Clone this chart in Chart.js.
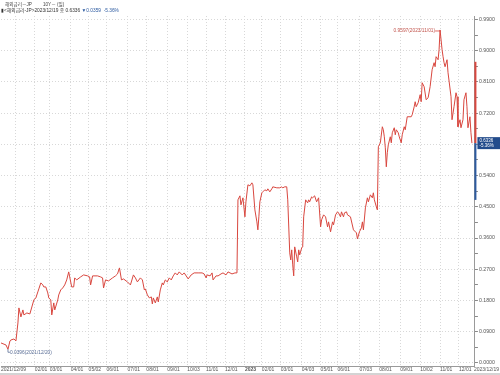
<!DOCTYPE html>
<html><head><meta charset="utf-8">
<script src="https://cdn.jsdelivr.net/npm/chart.js@4.4.1/dist/chart.umd.min.js"></script>
<style>html,body{margin:0;padding:0;background:#fff;}canvas{display:block;}</style>
</head><body>
<canvas id="c" width="500" height="375"></canvas>
<script>
// Trading-day number (since 2021/12/09) and 10Y JGB yield (%)
const jgb10y = [
[0,0.0577],[5,0.0519],[7,0.0396],[9,0.0635],[10,0.0663],[13,0.0692],[15,0.0635],[16,0.0894],[17,0.1154],[18,0.1587],
[20,0.1327],[22,0.1529],[23,0.1385],[26,0.1442],[29,0.1413],[33,0.1817],[35,0.1875],[37,0.2048],[38,0.2135],[40,0.2308],
[42,0.2250],[43,0.2192],[45,0.2192],[47,0.2019],[48,0.1875],[50,0.1817],[51,0.1385],[53,0.1731],[54,0.1529],[57,0.1817],
[58,0.1962],[60,0.2106],[62,0.2163],[64,0.2250],[66,0.2394],[68,0.2625],[69,0.2481],[71,0.2192],[73,0.2192],[74,0.2452],
[76,0.2394],[80,0.2481],[83,0.2538],[87,0.2510],[89,0.2481],[90,0.2250],[92,0.2510],[97,0.2510],[100,0.2481],[102,0.2452],
[103,0.2163],[105,0.2394],[108,0.2365],[112,0.2452],[115,0.2510],[117,0.2567],[119,0.2740],[121,0.2394],[123,0.2423],[127,0.2337],
[130,0.2250],[133,0.2538],[135,0.2452],[137,0.2337],[140,0.2452],[142,0.2394],[144,0.2106],[145,0.2135],[147,0.1962],[149,0.1875],
[151,0.1904],[152,0.1702],[153,0.1875],[155,0.1731],[157,0.1904],[158,0.1760],[160,0.2106],[162,0.2308],[163,0.2250],[165,0.2394],
[167,0.2337],[169,0.2452],[171,0.2394],[173,0.2510],[175,0.2596],[177,0.2538],[179,0.2625],[182,0.2538],[184,0.2596],[188,0.2423],
[191,0.2538],[194,0.2596],[198,0.2596],[202,0.2596],[204,0.2567],[206,0.2452],[207,0.2538],[210,0.2510],[212,0.2596],[213,0.2394],
[216,0.2510],[218,0.2510],[221,0.2567],[223,0.2596],[226,0.2538],[228,0.2625],[232,0.2567],[235,0.2596],[237,0.2596],[238,0.4702],
[240,0.4817],[241,0.4558],[243,0.4760],[245,0.4212],[246,0.4644],[248,0.5135],[250,0.5106],[252,0.5192],[253,0.5135],[255,0.4413],
[257,0.4067],[258,0.3837],[259,0.4212],[260,0.4644],[262,0.4904],[263,0.4933],[265,0.4990],[267,0.4962],[268,0.5019],[270,0.4933],
[272,0.5019],[273,0.5077],[277,0.5048],[280,0.5048],[282,0.5077],[283,0.5048],[285,0.5077],[287,0.5077],[288,0.4702],[290,0.3173],
[291,0.2971],[292,0.3260],[293,0.2827],[294,0.2510],[295,0.3346],[297,0.3058],[298,0.2913],[299,0.3260],[300,0.3115],[302,0.3317],
[303,0.3346],[304,0.4212],[306,0.4702],[308,0.4615],[309,0.4702],[310,0.4644],[312,0.4788],[313,0.4760],[315,0.4817],[317,0.4644],
[319,0.4760],[321,0.3923],[322,0.4125],[324,0.4269],[326,0.4212],[328,0.3923],[329,0.4067],[331,0.3779],[333,0.4067],[334,0.3981],
[336,0.4269],[338,0.4356],[339,0.4327],[341,0.4212],[342,0.4356],[344,0.4212],[345,0.4327],[347,0.4356],[348,0.4269],[351,0.4212],
[354,0.3837],[357,0.3750],[358,0.3577],[360,0.3779],[362,0.3894],[363,0.4067],[364,0.3837],[366,0.4471],[368,0.4760],[369,0.4644],
[371,0.4846],[373,0.4760],[374,0.4904],[375,0.4702],[377,0.4500],[378,0.4413],[379,0.6231],[381,0.6346],[383,0.6808],[384,0.6721],
[385,0.6519],[386,0.6202],[387,0.5654],[388,0.6058],[389,0.6288],[391,0.6519],[392,0.6346],[393,0.6635],[395,0.6779],[396,0.6577],
[397,0.6721],[399,0.6635],[400,0.6519],[402,0.6346],[403,0.6577],[405,0.6808],[406,0.6721],[408,0.7096],[412,0.7096],[413,0.7154],
[415,0.7385],[416,0.7529],[417,0.7385],[419,0.7500],[421,0.7731],[422,0.7529],[423,0.8077],[425,0.7962],[427,0.7587],[429,0.7644],
[431,0.7962],[433,0.8452],[435,0.8654],[436,0.8538],[437,0.8827],[439,0.8740],[440,0.9029],[441,0.9597],[443,0.9029],[444,0.8827],
[445,0.8654],[446,0.8538],[448,0.8740],[449,0.8365],[452,0.7673],[453,0.7010],[455,0.7385],[457,0.7788],[458,0.7673],[459,0.6808],
[461,0.7010],[462,0.6779],[464,0.7010],[465,0.7587],[467,0.7788],[468,0.7385],[469,0.6779],[471,0.7096],[472,0.6635],[473,0.6336]
];
const xTickDays   = [0,15,34,49,70,88,106,127,146,167,187,206,225,245,262,281,302,321,338,360,380,401,421,441,460,475];
const xTickLabels = ['2021/12/09','','02/01','03/01','04/01','05/02','06/01','07/01','08/01','09/01','10/03','11/01','12/01','2023',
                     '02/01','03/01','04/03','05/01','06/01','07/03','08/01','09/01','10/02','11/01','12/01','2023/12/19'];
const yTickValues = [0,0.045,0.09,0.135,0.18,0.225,0.27,0.315,0.36,0.405,0.45,0.495,0.54,0.585,0.63,0.675,0.72,0.765,0.81,0.855,0.9,0.945,0.99];
const lastDate = '2023/12/19';
const lastClose = 0.6336;
const lastChange = -0.0359;
const lastPct = -5.36;
const maxDate = '2023/11/01';
const minDate = '2021/12/20';
const rangeHigh = 0.868;
const rangeLow = 0.470;

const FONT = "'Liberation Sans','Noto Sans CJK KR',sans-serif";
const RED = '#d9473f';
const BLUE = '#2c5aa0';

const overlay = {
  id: 'overlay',
  beforeDraw(chart) {
    const c = chart.ctx;
    c.save(); c.fillStyle = '#fff'; c.fillRect(0,0,chart.width,chart.height); c.restore();
  },
  afterDraw(chart) {
    const c = chart.ctx, xs = chart.scales.x, ys = chart.scales.y;
    c.save();
    // header
    c.textBaseline = 'middle';
    c.fillStyle = '#444';
    c.font = '4.6px ' + FONT;
    c.fillText('해외금리－JP', 5, 4.5);
    c.fillText('10Y－ (일)', 43, 4.5);
    c.font = '4.8px ' + FONT;
    c.fillStyle = '#333';
    const t1 = '▮<해외금리-JP>' + lastDate + ' 종 ' + lastClose.toFixed(4) + ' ';
    c.fillText(t1, 1, 10.5);
    const w1 = c.measureText(t1).width;
    c.fillStyle = BLUE;
    c.fillText('▼' + Math.abs(lastChange).toFixed(4) + '  ' + lastPct.toFixed(2) + '%', 1 + w1, 10.5);
    // max / min annotations
    let mx = jgb10y[0], mn = jgb10y[0];
    jgb10y.forEach(p => { if (p[1] > mx[1]) mx = p; if (p[1] < mn[1]) mn = p; });
    const px = xs.getPixelForValue(mx[0]), py = ys.getPixelForValue(mx[1]);
    c.strokeStyle = RED; c.lineWidth = 0.8;
    c.beginPath(); c.moveTo(px - 5, py + 1); c.lineTo(px, py + 1); c.stroke();
    c.fillStyle = '#c2554d'; c.textAlign = 'right'; c.font = '4.8px ' + FONT;
    c.fillText(mx[1].toFixed(4) + '(' + maxDate + ')', px - 5, py + 1);
    const nx = xs.getPixelForValue(mn[0]), ny = ys.getPixelForValue(mn[1]);
    c.strokeStyle = '#5a6e96';
    c.beginPath(); c.moveTo(nx, ny); c.lineTo(nx, ny + 3); c.lineTo(nx + 2, ny + 3); c.stroke();
    c.fillStyle = '#5a6e96'; c.textAlign = 'left';
    c.fillText(mn[1].toFixed(4) + '(' + minDate + ')', nx + 2, ny + 3);
    // right-axis range bar and last value box
    const ax = chart.chartArea.right + 0.5;
    const yc = ys.getPixelForValue(lastClose);
    c.lineWidth = 2;
    c.strokeStyle = RED;
    c.beginPath(); c.moveTo(ax, ys.getPixelForValue(rangeHigh)); c.lineTo(ax, yc); c.stroke();
    c.strokeStyle = BLUE;
    c.beginPath(); c.moveTo(ax, yc); c.lineTo(ax, ys.getPixelForValue(rangeLow)); c.stroke();
    c.fillStyle = '#234c8c';
    c.fillRect(ax + 2, yc - 6, chart.width - ax - 2, 12);
    c.fillStyle = '#fff'; c.font = '4.5px ' + FONT; c.textAlign = 'left';
    c.fillText(lastClose.toFixed(4), ax + 4, yc - 2.5);
    c.fillText(lastPct.toFixed(2) + '%', ax + 4, yc + 2.5);
    // bottom strip
    c.fillStyle = '#d4d4d4';
    c.fillRect(0, chart.height - 2, chart.width, 2);
    c.restore();
  }
};

new Chart(document.getElementById('c'), {
  type: 'line',
  data: {
    datasets: [{
      data: jgb10y.map(p => ({x: p[0], y: p[1]})),
      borderColor: RED, borderWidth: 1, pointRadius: 0, tension: 0, fill: false
    }]
  },
  options: {
    responsive: false, animation: false,
    layout: {padding: {top: 16, left: 0, right: 0, bottom: 0}},
    plugins: {legend: {display: false}, tooltip: {enabled: false}},
    scales: {
      x: {
        type: 'linear', min: 0, max: 476,
        afterBuildTicks: s => { s.ticks = xTickDays.map(v => ({value: v})); },
        afterFit: s => { s.height = 9; },
        ticks: {
          autoSkip: false, maxRotation: 0, align: 'start', padding: 1, color: '#555',
          font: ctx => ({family: FONT, size: 5, weight: (ctx.tick && ctx.tick.label === '2023') ? 'bold' : 'normal'}),
          callback: (v, i) => xTickLabels[i]
        },
        grid: {drawTicks: false, color: ctx => (ctx.index === 0 || ctx.index === xTickDays.length - 1) ? 'rgba(0,0,0,0)' : '#d8d8d8', lineWidth: 1},
        border: {display: true, color: '#9a9a9a', width: 1, dash: [1, 2]}
      },
      y: {
        position: 'right', min: -0.0087, max: 1.0,
        afterBuildTicks: s => { s.ticks = yTickValues.map(v => ({value: v})); },
        afterFit: s => { s.width = 24; },
        ticks: {
          autoSkip: false, padding: 1, color: '#555', font: {family: FONT, size: 5.2},
          callback: (v, i) => (i % 2 === 0) ? v.toFixed(4) : ''
        },
        grid: {
          drawTicks: true, tickLength: 3,
          color: ctx => (ctx.index % 2 === 0) ? '#d8d8d8' : 'rgba(0,0,0,0)',
          tickColor: '#8a8a8a', lineWidth: 1
        },
        border: {display: true, color: '#9a9a9a', width: 1, dash: [1, 2]}
      }
    }
  },
  plugins: [overlay]
});
</script>
</body></html>
